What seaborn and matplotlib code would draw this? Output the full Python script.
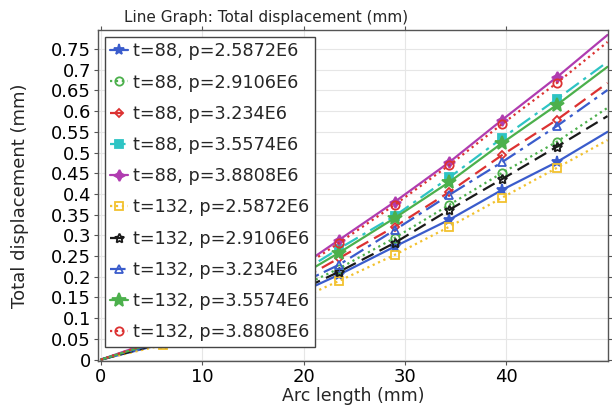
import numpy as np
import pandas as pd
import matplotlib
matplotlib.use("Agg")
import matplotlib.pyplot as plt
import seaborn as sns

# ==================== data ====================
arc_length = [0, 6.1, 12.2, 17.9, 23.5, 29.0, 34.4, 39.6, 45.0, 50.0]

labels = [
    "t=88, p=2.5872E6", "t=88, p=2.9106E6", "t=88, p=3.234E6",
    "t=88, p=3.5574E6", "t=88, p=3.8808E6",
    "t=132, p=2.5872E6", "t=132, p=2.9106E6", "t=132, p=3.234E6",
    "t=132, p=3.5574E6", "t=132, p=3.8808E6",
]

disp_t88_p25872 = [0, 0.038, 0.084, 0.142, 0.205, 0.273, 0.338, 0.410, 0.477, 0.550]
disp_t88_p29106 = [0, 0.042, 0.092, 0.155, 0.220, 0.294, 0.374, 0.451, 0.526, 0.608]
disp_t88_p3234 = [0, 0.045, 0.100, 0.168, 0.245, 0.321, 0.405, 0.494, 0.579, 0.668]
disp_t88_p35574 = [0, 0.048, 0.108, 0.183, 0.268, 0.347, 0.440, 0.535, 0.629, 0.719]
disp_t88_p38808 = [0, 0.052, 0.115, 0.195, 0.289, 0.381, 0.477, 0.579, 0.682, 0.784]
disp_t132_p25872 = [0, 0.035, 0.078, 0.128, 0.190, 0.253, 0.321, 0.391, 0.463, 0.530]
disp_t132_p29106 = [0, 0.040, 0.087, 0.148, 0.212, 0.282, 0.362, 0.436, 0.514, 0.588]
disp_t132_p3234 = [0, 0.044, 0.097, 0.163, 0.229, 0.313, 0.398, 0.477, 0.564, 0.651]
disp_t132_p35574 = [0, 0.047, 0.105, 0.177, 0.258, 0.342, 0.429, 0.523, 0.615, 0.707]
disp_t132_p38808 = [0, 0.050, 0.112, 0.190, 0.282, 0.374, 0.470, 0.569, 0.668, 0.767]

series = [disp_t88_p25872, disp_t88_p29106, disp_t88_p3234, disp_t88_p35574,
          disp_t88_p38808, disp_t132_p25872, disp_t132_p29106, disp_t132_p3234,
          disp_t132_p35574, disp_t132_p38808]

x_ticks = [0, 10, 20, 30, 40]
y_ticks = [0, 0.05, 0.1, 0.15, 0.2, 0.25, 0.3, 0.35, 0.4, 0.45, 0.5, 0.55,
           0.6, 0.65, 0.7, 0.75]

# ==================== styles ====================
BLUE, GREEN, RED = "#3a5ccc", "#4cb04c", "#dc3232"
CYAN, MAGENTA, YELLOW, BLACK = "#2ec4c4", "#b03cb0", "#f2c12e", "#1a1a1a"

styles = [
    # color, linestyle, marker, filled, marker size
    (BLUE, "-", "*", True, 8),
    (GREEN, ":", "o", False, 6),
    (RED, (0, (6, 3)), "D", False, 4.5),
    (CYAN, (0, (7, 2.5, 1.5, 2.5)), "s", True, 5.5),
    (MAGENTA, "-", (4, 1, 0), True, 8),
    (YELLOW, ":", "s", False, 6),
    (BLACK, (0, (6, 3)), (5, 1, 0), False, 7),
    (BLUE, (0, (7, 2.5, 1.5, 2.5)), "^", False, 6),
    (GREEN, "-", "*", True, 10),
    (RED, ":", "o", False, 6),
]

sns.set_theme(style="whitegrid")
plt.rcParams["font.family"] = ["DejaVu Sans"]

fig, ax = plt.subplots(figsize=(6.12, 4.05), dpi=100)
fig.subplots_adjust(left=0.160, right=0.9935, top=0.926, bottom=0.109)

for lab, ys, (c, ls, mk, filled, ms) in zip(labels, series, styles):
    df = pd.DataFrame({"x": arc_length, "y": ys})
    sns.lineplot(data=df, x="x", y="y", ax=ax, color=c, linestyle=ls,
                 linewidth=1.6, marker=mk, markersize=ms,
                 markerfacecolor=c if filled else "none",
                 markeredgecolor=c, markeredgewidth=1.3,
                 markevery=list(range(1, len(arc_length) - 1)),
                 label=lab, errorbar=None)

ax.set_xlim(-0.3, 50.05)
ax.set_ylim(-0.003, 0.796)
ax.set_xticks(x_ticks)
ax.set_yticks(y_ticks)
ax.set_yticklabels([f"{v:g}" for v in y_ticks])

ax.grid(True, color="#e6e6e6", linewidth=0.8)
for s in ax.spines.values():
    s.set_color("#555555")
    s.set_linewidth(1.0)
ax.tick_params(axis="both", labelsize=13, colors="#555555", labelcolor="black",
               length=3, width=0.8, direction="out", left=True, bottom=True,
               pad=2)
ax.tick_params(top=True, right=True, labeltop=False, labelright=False)

ax.set_title("Line Graph: Total displacement (mm)", fontsize=11, pad=6,
             x=0.33)
ax.set_xlabel("Arc length (mm)", fontsize=12.5, labelpad=1)
ax.set_ylabel("Total displacement (mm)", fontsize=13, labelpad=16)

leg = ax.legend(loc="upper left", fontsize=12.7, frameon=True, fancybox=False,
                edgecolor="#444444", framealpha=1, handlelength=1.0,
                handletextpad=0.3, labelspacing=0.75, borderpad=0.3,
                borderaxespad=0.4)
leg.get_frame().set_linewidth(1.0)

fig.savefig("out.png", dpi=100)
